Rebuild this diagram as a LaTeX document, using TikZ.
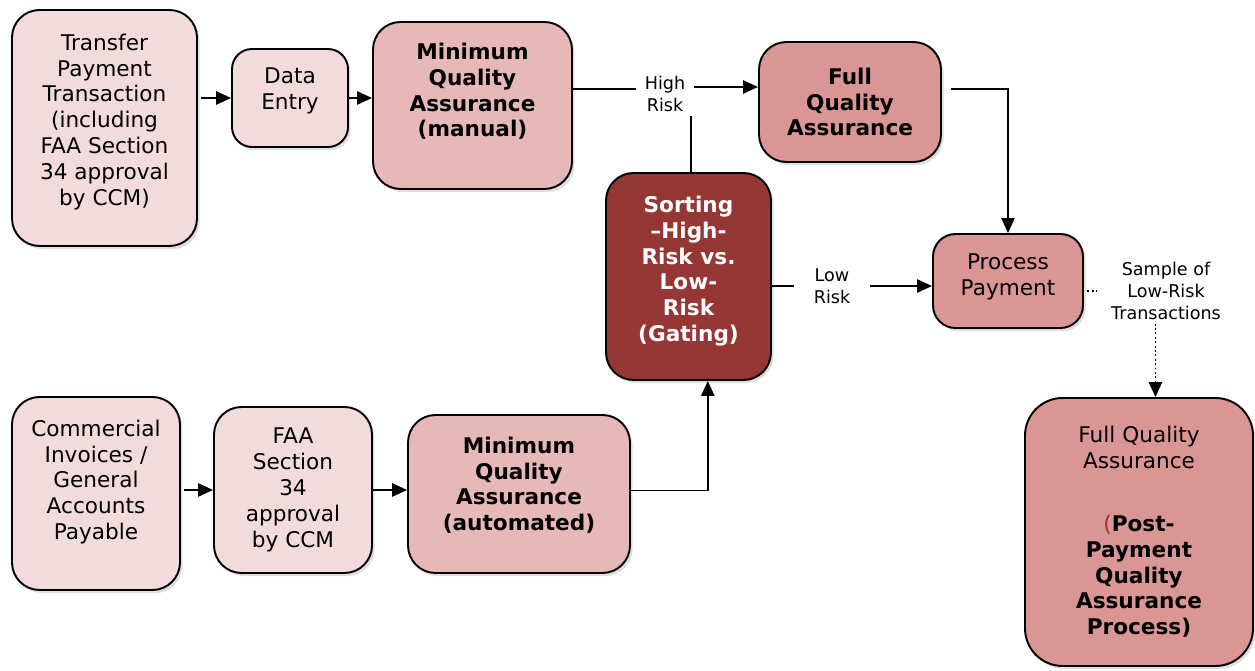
\documentclass[tikz,border=0pt]{standalone}
\usepackage{fontspec}
\setmainfont{DejaVu Sans}
\usetikzlibrary{arrows.meta,shadows}
\definecolor{pinkA}{HTML}{F2DCDB}
\definecolor{pinkB}{HTML}{E6B9B8}
\definecolor{pinkC}{HTML}{D99694}
\definecolor{redD}{HTML}{953735}

\begin{document}
\begin{tikzpicture}[x=0.02cm, y=-0.02cm, >={Triangle[length=8.5pt,width=7.5pt]},
    box/.style={draw, line width=1.1pt, rounded corners=0.55cm, fill=#1,
                align=center, inner sep=2pt,
                font=\fontsize{12.3}{14.7}\selectfont,
                drop shadow={opacity=0.25, shadow xshift=1.5pt, shadow yshift=-1.8pt}},
    lbl/.style={align=center, inner ysep=2pt,
                font=\fontsize{10}{12.5}\selectfont},
    ln/.style={line width=1.1pt},
    arr/.style={->, line width=1.1pt},
    dots/.style={line width=1.1pt, dash pattern=on 1.1pt off 1.4pt}]

  \useasboundingbox (0,0) rectangle (1255,671);

  %% Upper row: transfer payments
  \node[box=pinkA, minimum width=3.70cm, minimum height=4.72cm] (tp) at (104.5,128)
    {Transfer\\Payment\\Transaction\\(including\\FAA Section\\34 approval\\by CCM)\\[-5pt]\mbox{}};
  \node[box=pinkA, rounded corners=0.4cm,
        minimum width=2.32cm, minimum height=1.96cm] (de) at (290,98)
    {Data\\Entry\\[-4pt]\mbox{}};
  \node[box=pinkB, minimum width=3.98cm, minimum height=3.34cm] (mqm) at (472.5,105.5)
    {\bfseries Minimum\\\bfseries Quality\\\bfseries Assurance\\\bfseries (manual)\\[3pt]\mbox{}};
  \node[box=pinkC, minimum width=3.64cm, minimum height=2.40cm] (fqa) at (850,102)
    {\bfseries Full\\\bfseries Quality\\\bfseries Assurance};

  %% Gate
  \node[box=redD, text=white, minimum width=3.30cm, minimum height=4.14cm] (srt) at (688.5,276.5)
    {\bfseries Sorting\\\bfseries --High-\\\bfseries Risk vs.\\\bfseries Low-\\\bfseries Risk\\\bfseries (Gating)\\[-6pt]\mbox{}};
  \node[box=pinkC, rounded corners=0.45cm,
        minimum width=3.00cm, minimum height=1.88cm] (pp) at (1008,281)
    {Process\\Payment\\[-7pt]\mbox{}};
  \node[box=pinkC, rounded corners=0.75cm,
        minimum width=4.56cm, minimum height=5.36cm] (post) at (1139,532)
    {Full Quality\\Assurance\\[21pt]
     {\color{redD}(}\textbf{Post-}\\\textbf{Payment}\\\textbf{Quality}\\\textbf{Assurance}\\\textbf{Process)}};

  %% Lower row: commercial invoices
  \node[box=pinkA, minimum width=3.36cm, minimum height=3.86cm] (ci) at (96,493.5)
    {Commercial\\Invoices /\\General\\Accounts\\Payable\\[1pt]\mbox{}};
  \node[box=pinkA, minimum width=3.16cm, minimum height=3.32cm] (faa) at (293,490)
    {FAA\\Section\\34\\approval\\by CCM};
  \node[box=pinkB, minimum width=4.44cm, minimum height=3.16cm] (mqa) at (519,494)
    {\bfseries Minimum\\\bfseries Quality\\\bfseries Assurance\\\bfseries (automated)\\[-3pt]\mbox{}};

  %% Connector labels
  \node[lbl, inner xsep=5pt] (hr) at (665,94) {High\\Risk};
  \node[lbl, inner xsep=11pt] (lr) at (832,286) {Low\\Risk};
  \node[lbl, inner xsep=8pt] (smp) at (1166,291) {Sample of\\Low-Risk\\Transactions};

  %% Connectors
  \draw[arr] ([xshift=2pt]tp.east |- de.west) -- (de.west);
  \draw[arr] (de.east) -- (mqm.west |- de.east);
  \draw[ln] (mqm.east |- 0,89) -- (hr.west |- 0,89);
  \draw[arr] (hr.east |- 0,87) -- (fqa.west |- 0,87);
  \draw[ln] ([xshift=1.5]srt.north) -- ([xshift=1.5]srt.north |- hr.south);
  \draw[ln] (srt.east |- lr.west) -- (lr.west);
  \draw[arr] (lr.east) -- (pp.west |- lr.east);
  \draw[arr] ([shift={(9,-13)}]fqa.east) -| (pp.north);
  \draw[dots] ([xshift=2pt]pp.east |- smp.west) -- (smp.west);
  \draw[dots, ->] ([xshift=-6]smp.south) -- ([xshift=-6]smp.south |- post.north);

  \draw[arr] ([xshift=1.5pt]ci.east |- faa.west) -- (faa.west);
  \draw[arr] (faa.east) -- (mqa.west |- faa.east);
  \draw[arr] ([yshift=2]mqa.east) -| ([xshift=11]srt.south);
\end{tikzpicture}
\end{document}
